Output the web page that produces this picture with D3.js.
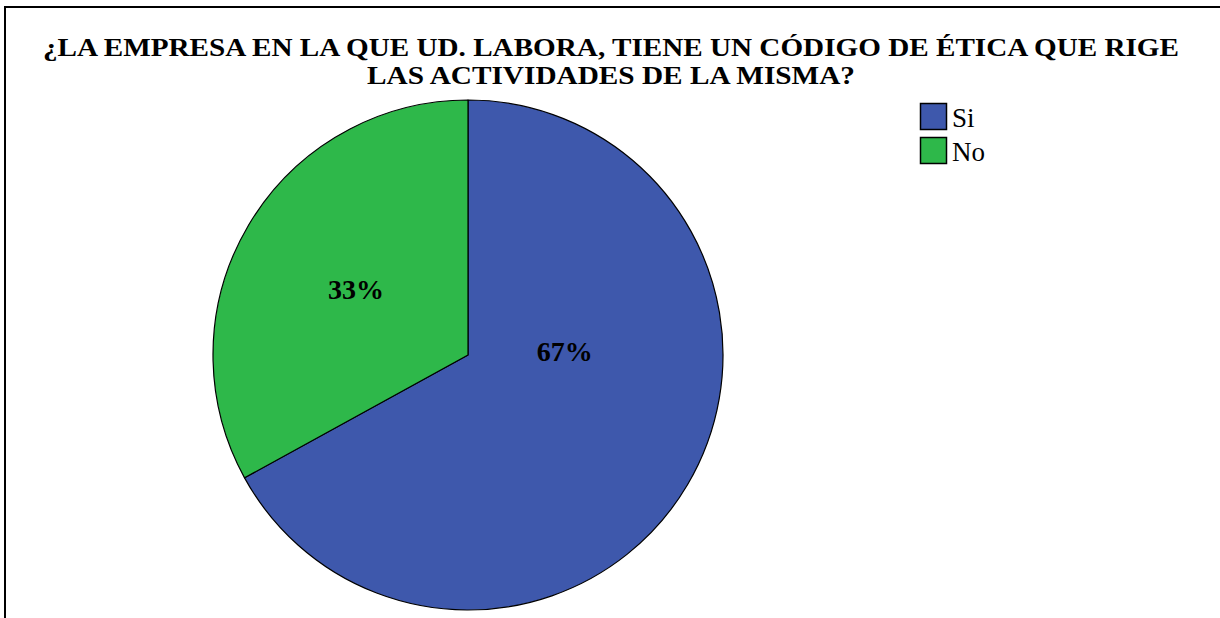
<!DOCTYPE html>
<html><head><meta charset="utf-8">
<script src="https://cdn.jsdelivr.net/npm/d3@7"></script>
<style>html,body{margin:0;padding:0;background:#fff;}svg{display:block;}</style>
</head><body>
<svg id="c" width="1220" height="618"></svg>
<script>
const titleLines = ["¿LA EMPRESA EN LA QUE UD. LABORA, TIENE UN CÓDIGO DE ÉTICA QUE RIGE", "LAS ACTIVIDADES DE LA MISMA?"];
const categories = ["Si", "No"];
const values = [67, 33];
const labels = ["67%", "33%"];
const colors = ["#3E58AC", "#2EB84A"];

const svg = d3.select("#c");
const W = 1220, H = 618;
svg.append("rect").attr("width", W).attr("height", H).attr("fill", "#fff");
svg.append("path").attr("d", `M5,${H} L5,7 L${W},7`).attr("fill", "none").attr("stroke", "#000").attr("stroke-width", 2);

const serif = "'Liberation Serif', 'DejaVu Serif', 'Times New Roman', serif";
const tWidths = [1136, 488];
titleLines.forEach((t, i) => {
  svg.append("text").attr("x", 611).attr("y", 56 + i * 28)
    .attr("text-anchor", "middle").style("font-family", serif)
    .style("font-weight", "bold").style("font-size", "25px").attr("fill", "#000")
    .attr("textLength", tWidths[i]).attr("lengthAdjust", "spacingAndGlyphs")
    .text(t);
});

const cx = 468, cy = 355, r = 255;
const data = categories.map((c, i) => ({cat: c, value: values[i], label: labels[i], color: colors[i]}));
const pie = d3.pie().sort(null).value(d => d.value);
const arc = d3.arc().innerRadius(0).outerRadius(r);
const g = svg.append("g").attr("transform", `translate(${cx},${cy})`);
const arcs = pie(data);
g.selectAll("path").data(arcs).join("path")
  .attr("d", arc).attr("fill", d => d.data.color)
  .attr("stroke", "#000").attr("stroke-width", 1.2).attr("stroke-linejoin", "round");

// label placement: fraction of the slice's angular span and radius fraction
const labelSpanFrac = [0.365, 0.5];
const labelRadFrac = [0.38, 0.51];
g.selectAll("text.pl").data(arcs).join("text").attr("class", "pl")
  .attr("transform", (d, i) => {
    const a = d.startAngle + (d.endAngle - d.startAngle) * labelSpanFrac[i];
    const rr = r * labelRadFrac[i];
    return `translate(${rr * Math.sin(a)},${-rr * Math.cos(a)})`;
  })
  .attr("text-anchor", "middle").attr("dy", "0.35em")
  .style("font-family", serif).style("font-weight", "bold").style("font-size", "28px")
  .attr("fill", "#000").text(d => d.data.label);

const lg = svg.append("g").attr("transform", "translate(920,103)");
const items = lg.selectAll("g").data(data).join("g").attr("transform", (d, i) => `translate(0,${i * 34})`);
items.append("rect").attr("x", 0.5).attr("y", 0.5).attr("width", 26).attr("height", 26)
  .attr("fill", d => d.color).attr("stroke", "#000").attr("stroke-width", 1.5);
items.append("text").attr("x", 32).attr("y", 24).style("font-family", serif)
  .style("font-size", "27px").attr("fill", "#000").text(d => d.cat);
</script>
</body></html>
